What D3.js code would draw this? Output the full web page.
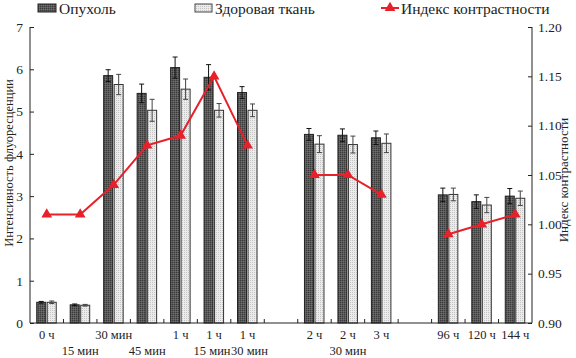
<!DOCTYPE html>
<html><head><meta charset="utf-8">
<script src="https://cdn.jsdelivr.net/npm/d3@7"></script>
<style>body{margin:0;background:#fff}svg{display:block}</style>
</head><body><svg id="c" width="576" height="358"></svg>
<script>
const slots = d3.range(15);
const labelTop = ["0 ч","","30 мин","","1 ч","1 ч","1 ч","","2 ч","2 ч","3 ч","","96 ч","120 ч","144 ч"];
const labelBottom = ["","15 мин","","45 мин","","15 мин","30 мин","","","30 мин","","","","",""];
const tumor = [0.49,0.43,5.85,5.43,6.04,5.81,5.45,null,4.46,4.44,4.38,null,3.03,2.87,3.00];
const tumorErr = [0.02,0.02,0.14,0.22,0.25,0.30,0.14,null,0.14,0.15,0.16,null,0.16,0.16,0.18];
const healthy = [0.49,0.42,5.64,5.03,5.53,5.03,5.03,null,4.23,4.22,4.25,null,3.04,2.79,2.95];
const healthyErr = [0.03,0.02,0.24,0.26,0.24,0.16,0.15,null,0.20,0.20,0.22,null,0.15,0.18,0.17];
const contrast = [1.01,1.01,1.04,1.08,1.09,1.15,1.08,null,1.05,1.05,1.03,null,0.99,1.00,1.01];
const leftTicks = [0,1,2,3,4,5,6,7];
const rightTicks = [0.90,0.95,1.00,1.05,1.10,1.15,1.20];

const FONT = "'Liberation Serif', 'Times New Roman', 'DejaVu Serif', serif";
const svg = d3.select("#c");
const L=30,R=532,T=27,B=323;
const x = d3.scaleBand().domain(slots).range([L,R]).padding(0);
const y = d3.scaleLinear().domain([0,7]).range([B,T]);
const y2 = d3.scaleLinear().domain([0.9,1.2]).range([B,T]);
const cx = i => x(i)+x.bandwidth()/2;

const defs = svg.append("defs");
const p1 = defs.append("pattern").attr("id","pt").attr("patternUnits","userSpaceOnUse").attr("width",2).attr("height",2);
p1.append("rect").attr("width",2).attr("height",2).attr("fill","#5a5a5a");
p1.append("rect").attr("width",1).attr("height",1).attr("fill","#3a3a3a");
p1.append("rect").attr("x",1).attr("y",1).attr("width",1).attr("height",1).attr("fill","#6e6e6e");
const p2 = defs.append("pattern").attr("id","ph").attr("patternUnits","userSpaceOnUse").attr("width",2).attr("height",2);
p2.append("rect").attr("width",2).attr("height",2).attr("fill","#ececec");
p2.append("rect").attr("width",1).attr("height",1).attr("fill","#c4c4c4");

const idx = slots.filter(i=>tumor[i]!==null);
svg.append("g").selectAll("rect").data(idx).join("rect")
  .attr("x",i=>cx(i)-10).attr("width",9)
  .attr("y",i=>y(tumor[i])).attr("height",i=>B-y(tumor[i]))
  .attr("fill","url(#pt)").attr("stroke","#222").attr("stroke-width",1);
svg.append("g").selectAll("rect").data(idx).join("rect")
  .attr("x",i=>cx(i)+0.5).attr("width",9)
  .attr("y",i=>y(healthy[i])).attr("height",i=>B-y(healthy[i]))
  .attr("fill","url(#ph)").attr("stroke","#333").attr("stroke-width",1);
function err(vals, errs, off, col){
  const g = svg.append("g").attr("stroke",col).attr("stroke-width",1);
  idx.forEach(i=>{
    const xc = cx(i)+off;
    g.append("line").attr("x1",xc).attr("x2",xc).attr("y1",y(vals[i]+errs[i])).attr("y2",y(vals[i]-errs[i]));
    g.append("line").attr("x1",xc-2.5).attr("x2",xc+2.5).attr("y1",y(vals[i]+errs[i])).attr("y2",y(vals[i]+errs[i]));
    g.append("line").attr("x1",xc-2.5).attr("x2",xc+2.5).attr("y1",y(vals[i]-errs[i])).attr("y2",y(vals[i]-errs[i]));
  });
}
err(tumor,tumorErr,-5.5,"#111");
err(healthy,healthyErr,5,"#444");

const red="#e8202a";
const line = d3.line().x(i=>cx(i)).y(i=>y2(contrast[i]));
const segs=[[0,1,2,3,4,5,6],[8,9,10],[12,13,14]];
segs.forEach(s=>svg.append("path").attr("d",line(s)).attr("fill","none").attr("stroke",red).attr("stroke-width",2));
const tri = d3.symbol().type(d3.symbolTriangle).size(50);
svg.append("g").selectAll("path").data(idx).join("path")
  .attr("d",tri).attr("transform",i=>`translate(${cx(i)},${y2(contrast[i])})`).attr("fill",red);

const ax = svg.append("g").attr("stroke","#222").attr("stroke-width",1).attr("fill","none");
ax.append("path").attr("d",`M${L},${T}V${B}H${R}V${T}`);
const gl = svg.append("g").attr("transform",`translate(${L},0)`).call(d3.axisLeft(y).tickValues(leftTicks).tickSize(-4).tickPadding(7).tickFormat(d3.format("d")));
const gr = svg.append("g").attr("transform",`translate(${R},0)`).call(d3.axisRight(y2).tickValues(rightTicks).tickSize(-4).tickPadding(6).tickFormat(d3.format(".2f")));
[gl,gr].forEach(g=>{g.attr("font-size",13.5);g.select(".domain").remove();g.selectAll("text").attr("fill","#222");g.selectAll("line").attr("stroke","#222");});
svg.append("g").selectAll("line").data(slots.slice(1)).join("line")
  .attr("x1",i=>x(i)).attr("x2",i=>x(i)).attr("y1",B).attr("y2",B-4).attr("stroke","#222");
svg.append("g").selectAll("text").data(slots).join("text")
  .attr("x",i=>cx(i)).attr("y",339).attr("text-anchor","middle").attr("font-size",12.5).text(i=>labelTop[i]);
svg.append("g").selectAll("text").data(slots).join("text")
  .attr("x",i=>cx(i)+(i===5?-2:i===6?2:0)).attr("y",355).attr("text-anchor","middle").attr("font-size",12.5).text(i=>labelBottom[i]);

svg.append("text").attr("transform","translate(13,163) rotate(-90)").attr("text-anchor","middle").attr("font-size",12.5).text("Интенсивность флуоресценции");
svg.append("text").attr("transform","translate(568,180) rotate(-90)").attr("text-anchor","middle").attr("font-size",13).text("Индекс контрастности");

const lg = svg.append("g");
lg.append("rect").attr("x",38).attr("y",4).attr("width",18).attr("height",8).attr("fill","url(#pt)").attr("stroke","#222");
lg.append("text").attr("x",59).attr("y",13.5).attr("font-size",15.5).text("Опухоль");
lg.append("rect").attr("x",195).attr("y",4).attr("width",17).attr("height",8).attr("fill","url(#ph)").attr("stroke","#444");
lg.append("text").attr("x",215).attr("y",13.5).attr("font-size",15.5).text("Здоровая ткань");
lg.append("line").attr("x1",381).attr("x2",399).attr("y1",8).attr("y2",8).attr("stroke",red).attr("stroke-width",2);
lg.append("path").attr("d",tri).attr("transform","translate(390,8)").attr("fill",red);
lg.append("text").attr("x",401).attr("y",13.5).attr("font-size",15.5).text("Индекс контрастности");

svg.selectAll("text").style("font-family", FONT).style("fill", "#222");
</script></body></html>
